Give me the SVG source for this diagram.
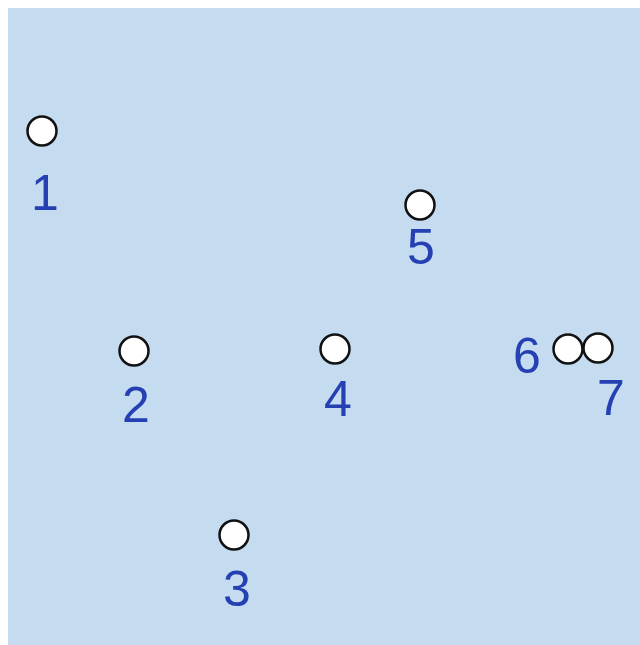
<svg xmlns="http://www.w3.org/2000/svg" width="640" height="645" viewBox="0 0 640 645">
<style>
.n circle{fill:#fff;stroke:#111;stroke-width:2.5}
.n text{font-family:"Liberation Sans",Arial,sans-serif;font-size:50px;fill:#2440b2;text-anchor:middle}
</style>
<rect x="0" y="0" width="640" height="645" fill="#fff"/>
<rect x="8" y="8" width="632" height="637" fill="#c5dbf0"/>
<g id="connectors"></g>
<g id="n1" class="n"><circle cx="42" cy="131" r="14.5"/><text x="45" y="210">1</text></g>
<g id="n2" class="n"><circle cx="134" cy="351" r="14.5"/><text x="136" y="422">2</text></g>
<g id="n3" class="n"><circle cx="234" cy="535" r="14.5"/><text x="237" y="606">3</text></g>
<g id="n4" class="n"><circle cx="335" cy="349" r="14.5"/><text x="338" y="416">4</text></g>
<g id="n5" class="n"><circle cx="420" cy="205" r="14.5"/><text x="421" y="264">5</text></g>
<g id="n6" class="n"><circle cx="568" cy="349" r="14.5"/><text x="527" y="373">6</text></g>
<g id="n7" class="n"><circle cx="598" cy="348" r="14.5"/><text x="611" y="415">7</text></g>
</svg>
